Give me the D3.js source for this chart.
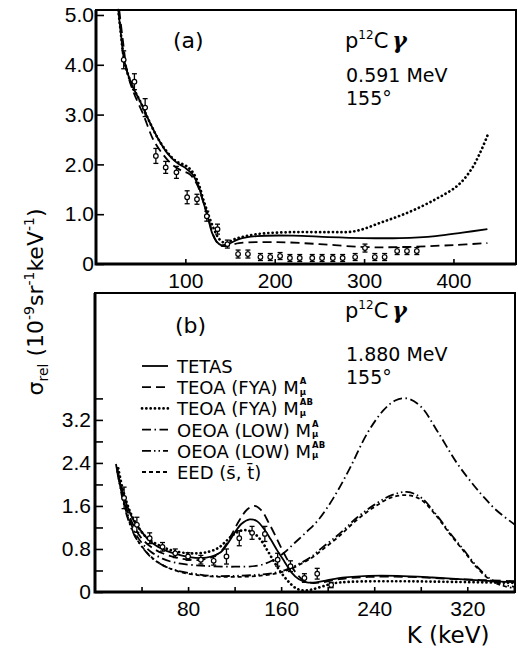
<!DOCTYPE html>
<html>
<head>
<meta charset="utf-8">
<script src="https://cdn.jsdelivr.net/npm/d3@7"></script>
<style>
  body { margin: 0; background: #fff; }
  svg { font-family: "DejaVu Sans", "Liberation Sans", sans-serif; }
</style>
</head>
<body>
<div id="chart"></div>
<script>
// ---- panel (a) data : 0.591 MeV ----
const kPtsA = [31, 43, 55, 67, 78, 90, 102, 113, 124, 136, 147, 159, 170, 184, 195, 206, 217, 228, 242, 253, 265, 276, 290, 301, 312, 323, 337, 348, 359];
const sigPtsA = [4.1, 3.66, 3.14, 2.17, 1.94, 1.84, 1.34, 1.3, 0.96, 0.7, 0.4, 0.2, 0.2, 0.14, 0.14, 0.16, 0.12, 0.12, 0.12, 0.12, 0.12, 0.12, 0.14, 0.32, 0.14, 0.14, 0.26, 0.26, 0.26];
const errPtsA = [0.18, 0.16, 0.18, 0.15, 0.12, 0.12, 0.13, 0.1, 0.1, 0.1, 0.08, 0.08, 0.08, 0.07, 0.07, 0.07, 0.07, 0.07, 0.07, 0.07, 0.07, 0.07, 0.07, 0.08, 0.07, 0.07, 0.07, 0.07, 0.07];

const solidA = [[25,5.1],[28,4.6],[32,4.05],[40,3.6],[49,3.28],[60,2.85],[70,2.5],[80,2.22],[90,2.04],[100,1.93],[108,1.8],[115,1.55],[120,1.25],[125,0.95],[130,0.62],[135,0.45],[140,0.38],[148,0.4],[160,0.5],[180,0.56],[220,0.57],[260,0.54],[300,0.52],[340,0.52],[380,0.56],[410,0.63],[438,0.7]];
const dashA = [[26,5.1],[30,4.5],[35,3.85],[42,3.45],[53,3.0],[64,2.5],[75,2.2],[85,2.0],[95,1.88],[105,1.8],[113,1.6],[120,1.25],[126,0.9],[132,0.55],[138,0.38],[146,0.36],[160,0.42],[200,0.44],[250,0.4],[300,0.34],[340,0.34],[400,0.38],[438,0.42]];
const dotA = [[25,5.1],[28,4.6],[32,4.05],[40,3.6],[49,3.28],[60,2.85],[70,2.5],[80,2.24],[90,2.06],[100,1.98],[108,1.85],[115,1.6],[120,1.3],[126,0.98],[132,0.7],[138,0.5],[145,0.42],[155,0.5],[180,0.6],[220,0.64],[260,0.64],[290,0.66],[320,0.84],[350,1.04],[380,1.3],[405,1.58],[420,1.9],[430,2.24],[439,2.62]];

// ---- panel (b) data : 1.880 MeV ----
const kPtsB = [25, 36, 47, 58, 69, 80, 91, 102, 113, 124, 135, 146, 157, 168, 180, 191, 203];
const sigPtsB = [1.75, 1.25, 1.0, 0.84, 0.72, 0.66, 0.6, 0.58, 0.66, 1.0, 1.1, 1.08, 0.6, 0.48, 0.26, 0.34, 0.13];
const errPtsB = [0.2, 0.14, 0.1, 0.08, 0.08, 0.07, 0.08, 0.08, 0.14, 0.14, 0.12, 0.14, 0.12, 0.1, 0.08, 0.1, 0.05];

const tetasB = [[19,2.32],[22,1.98],[28,1.58],[34,1.3],[39,1.15],[46,0.97],[54,0.84],[62,0.76],[71,0.7],[81,0.65],[91,0.63],[100,0.66],[108,0.74],[114,0.9],[120,1.1],[126,1.27],[133,1.35],[139,1.32],[145,1.18],[151,0.98],[157,0.76],[163,0.56],[169,0.36],[175,0.24],[182,0.18],[190,0.18],[200,0.22],[215,0.27],[235,0.3],[260,0.3],[290,0.27],[320,0.23],[361,0.18]];
const teoaFyaA = [[18,2.38],[22,1.95],[28,1.5],[34,1.2],[40,1.0],[48,0.84],[58,0.72],[70,0.64],[82,0.6],[92,0.6],[102,0.66],[110,0.8],[117,1.05],[124,1.33],[131,1.54],[137,1.6],[143,1.52],[149,1.3],[155,1.05],[161,0.78],[167,0.54],[173,0.35],[179,0.22],[186,0.17],[195,0.18],[210,0.24],[235,0.28],[270,0.28],[310,0.24],[361,0.2]];
const teoaFyaAB = [[20,2.3],[24,1.9],[30,1.5],[36,1.25],[44,1.02],[54,0.88],[65,0.78],[76,0.73],[88,0.72],[98,0.75],[106,0.82],[112,0.93],[118,1.05],[124,1.13],[130,1.15],[136,1.1],[142,0.98],[148,0.78],[154,0.56],[160,0.36],[166,0.2],[172,0.08],[178,0.03],[185,0.04],[195,0.1],[205,0.16],[220,0.19],[260,0.2],[300,0.19],[361,0.17]];
const oeoaLowA = [[19,2.3],[23,1.85],[28,1.45],[34,1.12],[40,0.92],[48,0.75],[58,0.62],[70,0.54],[85,0.5],[100,0.48],[120,0.47],[140,0.49],[152,0.58],[162,0.72],[172,0.92],[182,1.12],[192,1.34],[205,1.75],[219,2.3],[234,2.95],[248,3.38],[258,3.56],[268,3.6],[280,3.45],[294,3.0],[311,2.4],[325,2.0],[334,1.77],[345,1.52],[361,1.25]];
const oeoaLowAB = [[19,2.25],[23,1.8],[28,1.38],[34,1.05],[40,0.85],[48,0.65],[58,0.5],[70,0.4],[85,0.34],[100,0.3],[120,0.3],[140,0.32],[155,0.36],[165,0.42],[175,0.52],[185,0.64],[195,0.82],[210,1.08],[225,1.38],[240,1.62],[255,1.8],[268,1.86],[280,1.76],[294,1.42],[305,1.1],[317,0.78],[328,0.48],[340,0.24],[350,0.14],[361,0.1]];
const eedB = [[20,2.2],[24,1.75],[29,1.34],[35,1.02],[42,0.8],[50,0.62],[60,0.48],[72,0.38],[86,0.32],[100,0.29],[120,0.28],[140,0.3],[155,0.34],[165,0.4],[175,0.5],[185,0.62],[195,0.78],[210,1.04],[225,1.34],[240,1.58],[255,1.76],[268,1.8],[280,1.72],[294,1.4],[305,1.08],[317,0.76],[328,0.46],[340,0.22],[350,0.12],[358,0.08]];

// legend / line styles for panel (b)
const legendNames = ["TETAS", "TEOA (FYA) M", "TEOA (FYA) M", "OEOA (LOW) M", "OEOA (LOW) M", "EED (s\u0304, t\u0304)"];
const legendSup = ["", "A", "AB", "A", "AB", ""];
const dashStyles = [null, "9 5", "0.1 4.2", "9 3.5 1.5 3.5", "9 3 1.5 3 1.5 3", "4 3"];

const width = 518, height = 655;
const svg = d3.select('#chart').append('svg')
  .attr('width', width)
  .attr('height', height);

// scales
const xA = d3.scaleLinear().domain([0, 470]).range([96, 516]);
const yA = d3.scaleLinear().domain([0, 5.1]).range([264, 10]);
const xB = d3.scaleLinear().domain([0, 361]).range([95, 515]);
const yB = d3.scaleLinear().domain([0, 5.56]).range([592, 293]);

function frame(x, y) {
  const [x0, x1] = x.range(), [y0, y1] = y.range();
  svg.append('rect')
    .attr('x', x0).attr('y', y1)
    .attr('width', x1 - x0).attr('height', y0 - y1)
    .attr('fill', 'none').attr('stroke', '#000').attr('stroke-width', 2);
  // heavier left and bottom axis lines
  svg.append('path')
    .attr('d', `M${x0},${y1}V${y0}H${x1}`)
    .attr('fill', 'none').attr('stroke', '#000').attr('stroke-width', 3);
}

function styleAxis(g) {
  g.select('.domain').remove();
  g.selectAll('.tick line').attr('stroke', '#000').attr('stroke-width', 1.6);
  g.selectAll('.tick text').attr('fill', '#000').attr('font-size', 21);
}

// ---- panel (a) axes ----
frame(xA, yA);
svg.append('g')
  .attr('transform', `translate(0,${yA(0)})`)
  .call(d3.axisBottom(xA).tickValues([100, 200, 300, 400]).tickSize(-5).tickPadding(9).tickFormat(d3.format('d')))
  .call(styleAxis);
svg.append('g')
  .attr('transform', `translate(${xA(0)},0)`)
  .call(d3.axisLeft(yA).tickValues([0, 1, 2, 3, 4, 5]).tickSize(-8).tickPadding(2)
    .tickFormat(d => d === 0 ? '0' : d3.format('.1f')(d)))
  .call(styleAxis);

// ---- panel (b) axes ----
frame(xB, yB);
svg.append('g')
  .attr('transform', `translate(0,${yB(0)})`)
  .call(d3.axisBottom(xB).tickValues(d3.range(40, 361, 40)).tickSize(-5).tickPadding(9)
    .tickFormat(d => d % 80 === 0 ? d : ''))
  .call(styleAxis);
svg.append('g')
  .attr('transform', `translate(${xB(0)},0)`)
  .call(d3.axisLeft(yB).tickValues(d3.range(0, 3.7, 0.4)).tickSize(-8).tickPadding(4)
    .tickFormat(d => {
      const r = Math.round(d * 10);
      if (r === 0) return '0';
      return r % 8 === 0 ? d3.format('.1f')(d) : '';
    }))
  .call(styleAxis);

// ---- curves ----
function drawCurve(pts, x, y, dash) {
  const dotted = dash === "0.1 4.2";
  const line = d3.line()
    .x(d => x(d[0]))
    .y(d => y(d[1]))
    .curve(d3.curveCatmullRom.alpha(0.5));
  const p = svg.append('path')
    .datum(pts)
    .attr('d', line)
    .attr('fill', 'none')
    .attr('stroke', '#000')
    .attr('stroke-width', dotted ? 2.7 : 1.8)
    .attr('stroke-linecap', dotted ? 'round' : 'butt');
  if (dash) p.attr('stroke-dasharray', dash);
}

drawCurve(solidA, xA, yA, null);
drawCurve(dashA, xA, yA, "9 5");
drawCurve(dotA, xA, yA, "0.1 4.2");

const curvesB = [tetasB, teoaFyaA, teoaFyaAB, oeoaLowA, oeoaLowAB, eedB];
curvesB.forEach((c, i) => drawCurve(c, xB, yB, dashStyles[i]));

// ---- data points with error bars ----
function drawPoints(ks, sig, err, x, y) {
  const g = svg.append('g').attr('stroke', '#000').attr('fill', '#fff');
  const pts = ks.map((k, i) => ({ k: k, s: sig[i], e: err[i] }));
  const lo = d => y(Math.max(0, d.s - d.e));
  const hi = d => y(d.s + d.e);
  g.selectAll('line.bar').data(pts).enter().append('line')
    .attr('x1', d => x(d.k)).attr('x2', d => x(d.k))
    .attr('y1', hi).attr('y2', lo)
    .attr('stroke-width', 1.3);
  g.selectAll('line.capT').data(pts).enter().append('line')
    .attr('x1', d => x(d.k) - 2.5).attr('x2', d => x(d.k) + 2.5)
    .attr('y1', hi).attr('y2', hi)
    .attr('stroke-width', 1.3);
  g.selectAll('line.capB').data(pts).enter().append('line')
    .attr('x1', d => x(d.k) - 2.5).attr('x2', d => x(d.k) + 2.5)
    .attr('y1', lo).attr('y2', lo)
    .attr('stroke-width', 1.3);
  g.selectAll('circle').data(pts).enter().append('circle')
    .attr('cx', d => x(d.k)).attr('cy', d => y(d.s))
    .attr('r', 2.3).attr('stroke-width', 1.2);
}
drawPoints(kPtsA, sigPtsA, errPtsA, xA, yA);
drawPoints(kPtsB, sigPtsB, errPtsB, xB, yB);

// ---- texts ----
// small scripts are separate text nodes placed after measuring the main text
function reaction(x, y) {
  const p = svg.append('text').attr('x', x).attr('y', y).attr('font-size', 21).text('p');
  const x1 = x + p.node().getComputedTextLength();
  const s = svg.append('text').attr('x', x1).attr('y', y - 9).attr('font-size', 12).text('12');
  const x2 = x1 + s.node().getComputedTextLength();
  const c = svg.append('text').attr('x', x2).attr('y', y).attr('font-size', 21).text('C');
  const x3 = x2 + c.node().getComputedTextLength() + 4;
  svg.append('text').attr('x', x3).attr('y', y).attr('font-size', 22)
    .attr('font-style', 'italic').attr('font-weight', 'bold')
    .attr('font-family', '"DejaVu Serif", serif').text('\u03b3');
}
svg.append('text').attr('x', 173).attr('y', 48).attr('font-size', 22).text('(a)');
reaction(345, 48);
svg.append('text').attr('x', 346).attr('y', 82).attr('font-size', 19).text('0.591 MeV');
svg.append('text').attr('x', 346).attr('y', 105).attr('font-size', 19).text('155\u00b0');

svg.append('text').attr('x', 175).attr('y', 333).attr('font-size', 22).text('(b)');
reaction(345, 318);
svg.append('text').attr('x', 346).attr('y', 361).attr('font-size', 19).text('1.880 MeV');
svg.append('text').attr('x', 346).attr('y', 384).attr('font-size', 19).text('155\u00b0');

// legend (b)
legendNames.forEach((name, i) => {
  const ly = 366 + i * 21.2;
  const l = svg.append('line')
    .attr('x1', 142).attr('x2', 168).attr('y1', ly).attr('y2', ly)
    .attr('stroke', '#000')
    .attr('stroke-width', i === 2 ? 2.7 : 1.8)
    .attr('stroke-linecap', i === 2 ? 'round' : 'butt');
  if (dashStyles[i]) l.attr('stroke-dasharray', dashStyles[i]);
  const t = svg.append('text').attr('x', 177).attr('y', ly + 7).attr('font-size', 18).text(name);
  if (legendSup[i]) {
    const xe = 177 + t.node().getComputedTextLength() + 1;
    svg.append('text').attr('x', xe).attr('y', ly - 3).attr('font-size', 8.5)
      .attr('font-weight', 'bold').text(legendSup[i]);
    svg.append('text').attr('x', xe).attr('y', ly + 7.5).attr('font-size', 8.5)
      .attr('font-weight', 'bold').text('\u03bc');
  }
});

// axis titles
svg.append('text').attr('x', 448).attr('y', 643).attr('text-anchor', 'middle')
  .attr('font-size', 23).text('K (keV)');

const yt = svg.append('text')
  .attr('transform', 'translate(43,302) rotate(-90)')
  .attr('text-anchor', 'middle')
  .attr('font-size', 22);
yt.append('tspan').text('\u03c3');
yt.append('tspan').attr('font-size', 14).attr('dy', 5).text('rel');
yt.append('tspan').attr('dy', -5).text(' (10');
yt.append('tspan').attr('font-size', 14).attr('dy', -9).text('-9');
yt.append('tspan').attr('dy', 9).text('sr');
yt.append('tspan').attr('font-size', 14).attr('dy', -9).text('-1');
yt.append('tspan').attr('dy', 9).text('keV');
yt.append('tspan').attr('font-size', 14).attr('dy', -9).text('-1');
yt.append('tspan').attr('dy', 9).text(')');
</script>
</body>
</html>
